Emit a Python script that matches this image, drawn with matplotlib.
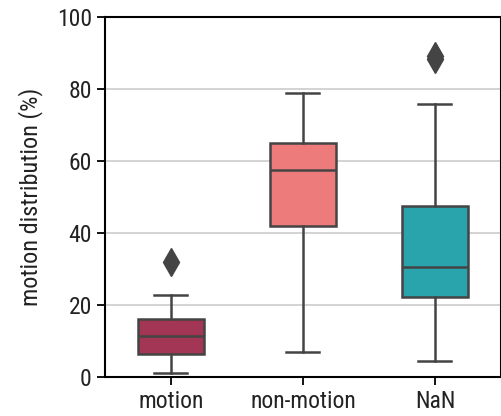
import matplotlib
matplotlib.use("Agg")
import matplotlib.pyplot as plt

categories = ["motion", "non-motion", "NaN"]
whislo = [1.1, 7.0, 4.4]
q1 = [6.2, 41.8, 22.1]
med = [11.3, 57.4, 30.5]
q3 = [16.0, 65.0, 47.5]
whishi = [22.8, 78.9, 75.8]
fliers = [[31.8], [], [88.2, 89.0]]
colors = ["#A33655", "#EE7B7B", "#29A4AD"]
yticks = [0, 20, 40, 60, 80, 100]

plt.rcParams['font.family'] = ['Roboto Condensed', 'Roboto', 'DejaVu Sans']

fig = plt.figure(figsize=(5.02, 4.16), dpi=100)
ax = fig.add_axes([105/502, 1-376.7/416, (501-105)/502, (376.7-16.7)/416])

stats = []
for i, c in enumerate(categories):
    stats.append(dict(label=c, whislo=whislo[i], q1=q1[i], med=med[i], q3=q3[i],
                      whishi=whishi[i], fliers=fliers[i]))

lc = "#444444"
lw = 1.8
bp = ax.bxp(stats, positions=range(len(categories)), widths=0.5, patch_artist=True,
            boxprops=dict(edgecolor=lc, linewidth=lw),
            medianprops=dict(color=lc, linewidth=lw),
            whiskerprops=dict(color=lc, linewidth=lw),
            capprops=dict(color=lc, linewidth=lw),
            flierprops=dict(marker='d', markerfacecolor=lc, markeredgecolor=lc,
                            markersize=14, linestyle='none'))
for patch, col in zip(bp['boxes'], colors):
    patch.set_facecolor(col)
    patch.set_zorder(2)

ax.set_xlim(-0.5, 2.5)
ax.set_ylim(0, 100)
ax.set_yticks(yticks)
ax.set_xticks(range(len(categories)))
ax.set_xticklabels(categories)
ax.yaxis.grid(True, color="#cccccc", linewidth=1.2)
ax.set_axisbelow(True)
for s in ax.spines.values():
    s.set_color("black")
    s.set_linewidth(1.5)
ax.tick_params(axis='both', direction='out', length=6, width=1.3, labelsize=17, colors="black",
               labelcolor="#222222")
ax.set_ylabel("motion distribution (%)", fontsize=17.5, color="#222222", labelpad=10)

fig.savefig("out.png", dpi=100)
